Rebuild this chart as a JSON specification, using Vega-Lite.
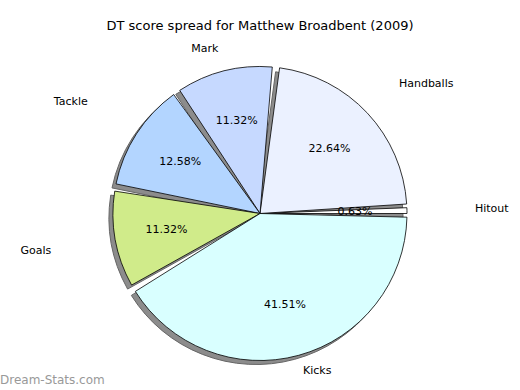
{
  "$schema": "https://vega.github.io/schema/vega-lite/v6.json",
  "autosize": {"type": "fit", "contains": "padding"},
  "width": 520,
  "height": 390,
  "padding": {"top": 20, "left": 0, "right": 0, "bottom": 0},
  "background": "white",
  "config": {"view": {"stroke": null}, "font": "DejaVu Sans"},
  "title": {"text": "DT score spread for Matthew Broadbent (2009)", "fontSize": 13, "fontWeight": "normal", "font": "DejaVu Sans", "color": "black", "offset": 4},
  "layer": [
    {
      "data": {"values": [
        {"label": "Hitout", "share": 0.0063, "ord": 1},
        {"label": "Handballs", "share": 0.2264, "ord": 2},
        {"label": "Mark", "share": 0.1132, "ord": 3},
        {"label": "Tackle", "share": 0.1258, "ord": 4},
        {"label": "Goals", "share": 0.1132, "ord": 5},
        {"label": "Kicks", "share": 0.4151, "ord": 6}
      ]},
      "encoding": {
        "theta": {"field": "share", "type": "quantitative", "stack": true, "scale": {"range": [1.5708, -4.7124]}},
        "order": {"field": "ord", "type": "quantitative"}
      },
      "layer": [
        {
          "mark": {"type": "arc", "radius": 147, "padAngle": {"expr": "datum.label === 'Hitout' ? 0 : 0.05"}, "fill": "#8c8c8c", "stroke": "#666666", "strokeWidth": 1, "xOffset": -4, "yOffset": 4}
        },
        {
          "mark": {"type": "arc", "radius": 147, "padAngle": {"expr": "datum.label === 'Hitout' ? 0 : 0.05"}, "stroke": "black", "strokeWidth": 0.8},
          "encoding": {
            "color": {"field": "label", "type": "nominal", "legend": null,
              "scale": {"domain": ["Hitout", "Handballs", "Mark", "Tackle", "Goals", "Kicks"],
                        "range": ["#ffffff", "#ebf1ff", "#c6d9ff", "#b3d5ff", "#d0eb8a", "#d9ffff"]}}
          }
        },
        {
          "mark": {"type": "text", "radius": 95, "fontSize": 11, "font": "DejaVu Sans", "color": "black"},
          "encoding": {"text": {"field": "share", "type": "quantitative", "format": ".2%"}}
        },
        {
          "mark": {"type": "text", "fontSize": 11, "font": "DejaVu Sans", "color": "black",
            "radius": {"expr": "datum.label === 'Hitout' ? 215 : datum.label === 'Handballs' ? 190 : datum.label === 'Mark' ? 170 : datum.label === 'Tackle' ? 205 : datum.label === 'Goals' ? 212 : 163"},
            "align": {"expr": "datum.label === 'Mark' || datum.label === 'Tackle' || datum.label === 'Goals' ? 'right' : 'left'"}},
          "encoding": {"text": {"field": "label", "type": "nominal"}}
        }
      ]
    },
    {
      "data": {"values": [{"site": "Dream-Stats.com"}]},
      "mark": {"type": "text", "x": 0, "y": {"expr": "height"}, "align": "left", "baseline": "bottom", "dy": -3, "fontSize": 12, "font": "DejaVu Sans", "color": "#999999"},
      "encoding": {"text": {"field": "site", "type": "nominal"}}
    }
  ]
}
